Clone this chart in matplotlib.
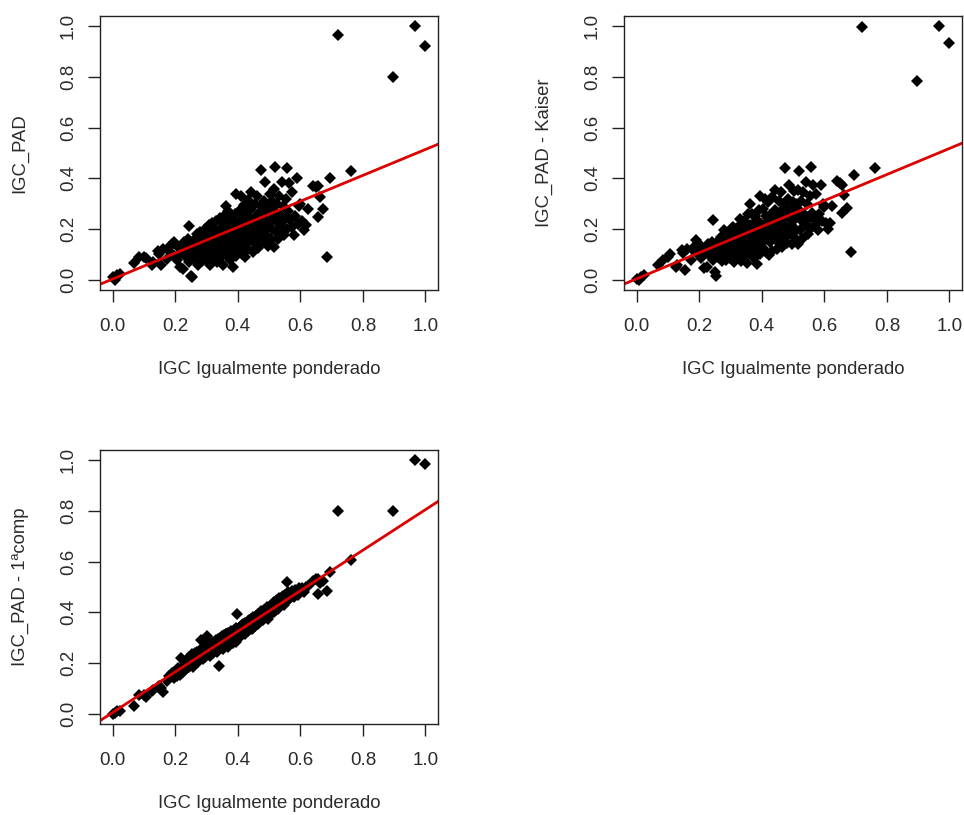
import numpy as np
import matplotlib.pyplot as plt

# IGC igualmente ponderado (common x for the three panels)
igc_igual = [
    0.000, 0.008, 0.015, 0.025, 0.070, 0.085, 0.100, 0.108,
    0.125, 0.130, 0.145, 0.150, 0.155, 0.160, 0.175, 0.180, 0.185, 0.190, 0.195, 0.198,
    0.205, 0.210, 0.215, 0.220, 0.225, 0.228, 0.232, 0.235, 0.240, 0.243,
    0.245, 0.248, 0.250, 0.254, 0.255, 0.258, 0.260, 0.262, 0.265, 0.268,
    0.270, 0.272, 0.275, 0.278, 0.280, 0.282, 0.285, 0.288, 0.290, 0.292,
    0.295, 0.296, 0.298, 0.300, 0.302, 0.304,
    0.306, 0.308, 0.310, 0.312, 0.314, 0.316, 0.318, 0.320, 0.322, 0.325,
    0.327, 0.330, 0.332, 0.334, 0.336, 0.338, 0.340, 0.342, 0.344, 0.346,
    0.348, 0.350, 0.352, 0.354, 0.356, 0.358, 0.360, 0.362, 0.364, 0.366,
    0.368, 0.370, 0.372, 0.374, 0.376, 0.378, 0.380, 0.382, 0.385, 0.386,
    0.388, 0.390, 0.392, 0.394, 0.395, 0.396, 0.398, 0.399,
    0.305, 0.315, 0.328, 0.345, 0.355, 0.365, 0.375, 0.384, 0.393, 0.362,
    0.401, 0.403, 0.405, 0.407, 0.409, 0.411, 0.413, 0.415, 0.417, 0.419,
    0.422, 0.424, 0.426, 0.428, 0.430, 0.432, 0.434, 0.436, 0.438, 0.440,
    0.442, 0.444, 0.446, 0.448, 0.450, 0.452, 0.454, 0.456, 0.458, 0.460,
    0.462, 0.464, 0.466, 0.468, 0.470, 0.472, 0.474, 0.476, 0.478, 0.480,
    0.482, 0.484, 0.487, 0.489, 0.491, 0.493, 0.495, 0.497, 0.499,
    0.410, 0.420, 0.433, 0.445, 0.457, 0.467, 0.479, 0.488, 0.425, 0.463,
    0.501, 0.503, 0.505, 0.507, 0.509, 0.511, 0.513, 0.515, 0.517, 0.519,
    0.521, 0.523, 0.525, 0.528, 0.530, 0.533, 0.536, 0.540, 0.542, 0.545,
    0.548, 0.550, 0.553, 0.556, 0.558, 0.562, 0.565, 0.568, 0.572, 0.575,
    0.580, 0.584, 0.588, 0.592, 0.596, 0.600,
    0.606, 0.612, 0.618, 0.625, 0.642, 0.650, 0.658, 0.663, 0.658, 0.674,
    0.685, 0.696, 0.763,
    0.722, 0.897, 0.966, 1.000,
]

# IGC_PAD
igc_pad = [
    0.010, 0.000, 0.020, 0.022, 0.066, 0.090, 0.092, 0.085,
    0.057, 0.070, 0.113, 0.100, 0.057, 0.120, 0.083, 0.130, 0.110, 0.140, 0.095, 0.150,
    0.080, 0.130, 0.050, 0.105, 0.044, 0.150, 0.120, 0.090, 0.160, 0.211,
    0.070, 0.130, 0.017, 0.010, 0.110, 0.145, 0.085, 0.160, 0.120, 0.095,
    0.180, 0.060, 0.135, 0.105, 0.190, 0.150, 0.075, 0.125, 0.170, 0.100,
    0.200, 0.140, 0.080, 0.160, 0.115, 0.190,
    0.095, 0.215, 0.140, 0.060, 0.175, 0.120, 0.225, 0.085, 0.155, 0.200,
    0.105, 0.165, 0.230, 0.070, 0.140, 0.190, 0.110, 0.245, 0.160, 0.090,
    0.205, 0.130, 0.175, 0.060, 0.250, 0.145, 0.195, 0.100, 0.225, 0.160,
    0.120, 0.270, 0.185, 0.080, 0.210, 0.140, 0.240, 0.170, 0.050, 0.115,
    0.200, 0.260, 0.150, 0.185, 0.338, 0.095, 0.225, 0.130,
    0.130, 0.105, 0.145, 0.120, 0.215, 0.135, 0.165, 0.225, 0.110, 0.290,
    0.175, 0.270, 0.130, 0.210, 0.330, 0.155, 0.240, 0.100, 0.190, 0.295,
    0.090, 0.220, 0.145, 0.260, 0.180, 0.315, 0.120, 0.205, 0.240, 0.160,
    0.345, 0.280, 0.195, 0.110, 0.230, 0.170, 0.300, 0.140, 0.250, 0.210,
    0.330, 0.185, 0.125, 0.265, 0.220, 0.160, 0.290, 0.433, 0.200, 0.245,
    0.150, 0.310, 0.387, 0.230, 0.175, 0.270, 0.205, 0.135, 0.295,
    0.200, 0.250, 0.195, 0.215, 0.190, 0.235, 0.180, 0.260, 0.170, 0.150,
    0.225, 0.340, 0.160, 0.280, 0.200, 0.310, 0.245, 0.130, 0.360, 0.443,
    0.265, 0.190, 0.300, 0.225, 0.160, 0.330, 0.255, 0.387, 0.210, 0.290,
    0.175, 0.240, 0.320, 0.440, 0.200, 0.270, 0.383, 0.235, 0.347, 0.210,
    0.175, 0.250, 0.400, 0.220, 0.290, 0.300,
    0.230, 0.195, 0.215, 0.280, 0.371, 0.365, 0.371, 0.327, 0.248, 0.280,
    0.090, 0.400, 0.429,
    0.967, 0.800, 1.000, 0.921,
]

# IGC_PAD - Kaiser
igc_pad_kaiser = [
    0.005, 0.000, 0.012, 0.020, 0.057, 0.077, 0.092, 0.100,
    0.050, 0.060, 0.116, 0.105, 0.040, 0.123, 0.080, 0.125, 0.115, 0.156, 0.100, 0.145,
    0.085, 0.125, 0.045, 0.110, 0.050, 0.140, 0.115, 0.095, 0.150, 0.235,
    0.080, 0.135, 0.030, 0.017, 0.105, 0.150, 0.090, 0.140, 0.125, 0.100,
    0.170, 0.075, 0.130, 0.110, 0.195, 0.145, 0.080, 0.120, 0.160, 0.105,
    0.190, 0.145, 0.085, 0.165, 0.120, 0.205,
    0.100, 0.210, 0.130, 0.070, 0.180, 0.115, 0.200, 0.090, 0.160, 0.210,
    0.110, 0.170, 0.240, 0.075, 0.145, 0.185, 0.120, 0.230, 0.150, 0.095,
    0.215, 0.125, 0.185, 0.065, 0.260, 0.140, 0.200, 0.105, 0.215, 0.170,
    0.115, 0.260, 0.190, 0.085, 0.220, 0.135, 0.250, 0.160, 0.063, 0.120,
    0.210, 0.275, 0.145, 0.195, 0.330, 0.100, 0.220, 0.140,
    0.135, 0.100, 0.150, 0.130, 0.205, 0.145, 0.175, 0.235, 0.105, 0.300,
    0.180, 0.280, 0.125, 0.215, 0.320, 0.160, 0.250, 0.110, 0.180, 0.305,
    0.096, 0.230, 0.150, 0.255, 0.190, 0.325, 0.115, 0.215, 0.235, 0.170,
    0.355, 0.275, 0.200, 0.120, 0.240, 0.165, 0.310, 0.145, 0.260, 0.200,
    0.345, 0.190, 0.130, 0.280, 0.215, 0.165, 0.300, 0.440, 0.205, 0.255,
    0.145, 0.320, 0.375, 0.240, 0.180, 0.265, 0.215, 0.140, 0.305,
    0.205, 0.245, 0.200, 0.225, 0.195, 0.240, 0.175, 0.270, 0.175, 0.155,
    0.230, 0.350, 0.165, 0.290, 0.195, 0.300, 0.255, 0.140, 0.355, 0.430,
    0.270, 0.195, 0.310, 0.230, 0.160, 0.345, 0.260, 0.385, 0.215, 0.300,
    0.180, 0.245, 0.330, 0.445, 0.205, 0.265, 0.375, 0.240, 0.340, 0.220,
    0.195, 0.260, 0.373, 0.230, 0.300, 0.288,
    0.225, 0.200, 0.224, 0.290, 0.390, 0.380, 0.375, 0.335, 0.265, 0.285,
    0.110, 0.415, 0.440,
    0.995, 0.785, 1.000, 0.935,
]

# IGC_PAD - 1a componente
igc_pad_1comp = [
    0.000, 0.005, 0.012, 0.010, 0.029, 0.075, 0.075, 0.068,
    0.090, 0.095, 0.105, 0.110, 0.100, 0.088, 0.130, 0.150, 0.145, 0.160, 0.140, 0.165,
    0.150, 0.180, 0.155, 0.220, 0.165, 0.190, 0.200, 0.175, 0.205, 0.225,
    0.185, 0.210, 0.195, 0.205, 0.235, 0.185, 0.220, 0.240, 0.195, 0.225,
    0.245, 0.205, 0.215, 0.250, 0.220, 0.292, 0.225, 0.255, 0.215, 0.265,
    0.245, 0.225, 0.255, 0.270, 0.305, 0.240,
    0.235, 0.260, 0.275, 0.230, 0.255, 0.280, 0.265, 0.240, 0.285, 0.270,
    0.250, 0.290, 0.275, 0.245, 0.295, 0.255, 0.187, 0.290, 0.300, 0.260,
    0.280, 0.305, 0.265, 0.255, 0.310, 0.275, 0.300, 0.270, 0.315, 0.280,
    0.265, 0.320, 0.300, 0.275, 0.310, 0.325, 0.285, 0.315, 0.280, 0.295,
    0.330, 0.320, 0.290, 0.340, 0.300, 0.285, 0.395, 0.325,
    0.250, 0.260, 0.268, 0.278, 0.285, 0.292, 0.290, 0.310, 0.308, 0.315,
    0.335, 0.310, 0.340, 0.315, 0.345, 0.305, 0.350, 0.320, 0.355, 0.325,
    0.315, 0.360, 0.330, 0.350, 0.335, 0.365, 0.325, 0.370, 0.340, 0.345,
    0.375, 0.360, 0.335, 0.340, 0.380, 0.350, 0.365, 0.345, 0.385, 0.360,
    0.380, 0.395, 0.355, 0.390, 0.365, 0.370, 0.405, 0.395, 0.375, 0.400,
    0.370, 0.410, 0.395, 0.380, 0.390, 0.420, 0.385, 0.375, 0.415,
    0.318, 0.338, 0.348, 0.352, 0.362, 0.372, 0.378, 0.398, 0.342, 0.368,
    0.390, 0.415, 0.395, 0.425, 0.430, 0.405, 0.435, 0.400, 0.440, 0.420,
    0.410, 0.445, 0.450, 0.420, 0.415, 0.455, 0.425, 0.460, 0.435, 0.465,
    0.430, 0.470, 0.440, 0.520, 0.450, 0.480, 0.460, 0.455, 0.485, 0.465,
    0.460, 0.490, 0.485, 0.470, 0.495, 0.480,
    0.495, 0.480, 0.500, 0.505, 0.522, 0.530, 0.474, 0.516, 0.530, 0.525,
    0.483, 0.559, 0.605,
    0.801, 0.801, 1.000, 0.983,
]

# abline(lm(y ~ x)) coefficients: (intercept, slope)
fit_pad = (0.003, 0.511)
fit_kaiser = (0.004, 0.514)
fit_1comp = (0.005, 0.800)

panels = [
    (igc_pad, fit_pad, "IGC_PAD"),
    (igc_pad_kaiser, fit_kaiser, "IGC_PAD - Kaiser"),
    (igc_pad_1comp, fit_1comp, "IGC_PAD - 1ªcomp"),
]

plt.rcParams['font.family'] = ['Liberation Sans', 'DejaVu Sans']
text_col = '#2b2b2b'

fig = plt.figure(figsize=(9.64, 8.15), dpi=100)

# axes boxes in pixels (left, top) -> figure fractions, R par(mfrow=c(2,2)) look
W, H = 964, 815
box_w, box_h = 338, 274
corners = [(100, 16), (624, 16), (100, 450)]

x = np.array(igc_igual)
ticks = [0.0, 0.2, 0.4, 0.6, 0.8, 1.0]

for (y, (b0, b1), ylab), (px, py) in zip(panels, corners):
    ax = fig.add_axes([px / W, 1 - (py + box_h) / H, box_w / W, box_h / H])
    y = np.array(y)

    ax.plot(x, y, linestyle='none', marker='D', markersize=5.7,
            markerfacecolor='black', markeredgewidth=0)
    ax.axline((0, b0), slope=b1, color='#dd0000', linewidth=2.0)

    # R default: data range extended by 4% on each side
    xr = x.max() - x.min()
    yr = y.max() - y.min()
    ax.set_xlim(x.min() - 0.04 * xr, x.max() + 0.04 * xr)
    ax.set_ylim(y.min() - 0.04 * yr, y.max() + 0.04 * yr)

    ax.set_xticks(ticks)
    ax.set_yticks(ticks)
    ax.set_xticklabels([f"{t:.1f}" for t in ticks])
    ax.set_yticklabels([f"{t:.1f}" for t in ticks], rotation=90, va='center')
    ax.tick_params(direction='out', length=8.5, width=1.0, color='#222222',
                   labelsize=13.5, labelcolor=text_col)
    ax.tick_params(axis='x', pad=12)
    ax.tick_params(axis='y', pad=8)
    for sp in ax.spines.values():
        sp.set_linewidth(1.0)
        sp.set_color('#222222')

    ax.text(0.5, -80 / box_h, "IGC Igualmente ponderado", transform=ax.transAxes,
            ha='center', va='center', fontsize=13.3, color=text_col)
    ax.text(-80 / box_w, 0.5, ylab, transform=ax.transAxes, rotation=90,
            ha='center', va='center', fontsize=13.3, color=text_col)

plt.savefig("out.png", dpi=100)
plt.close()
